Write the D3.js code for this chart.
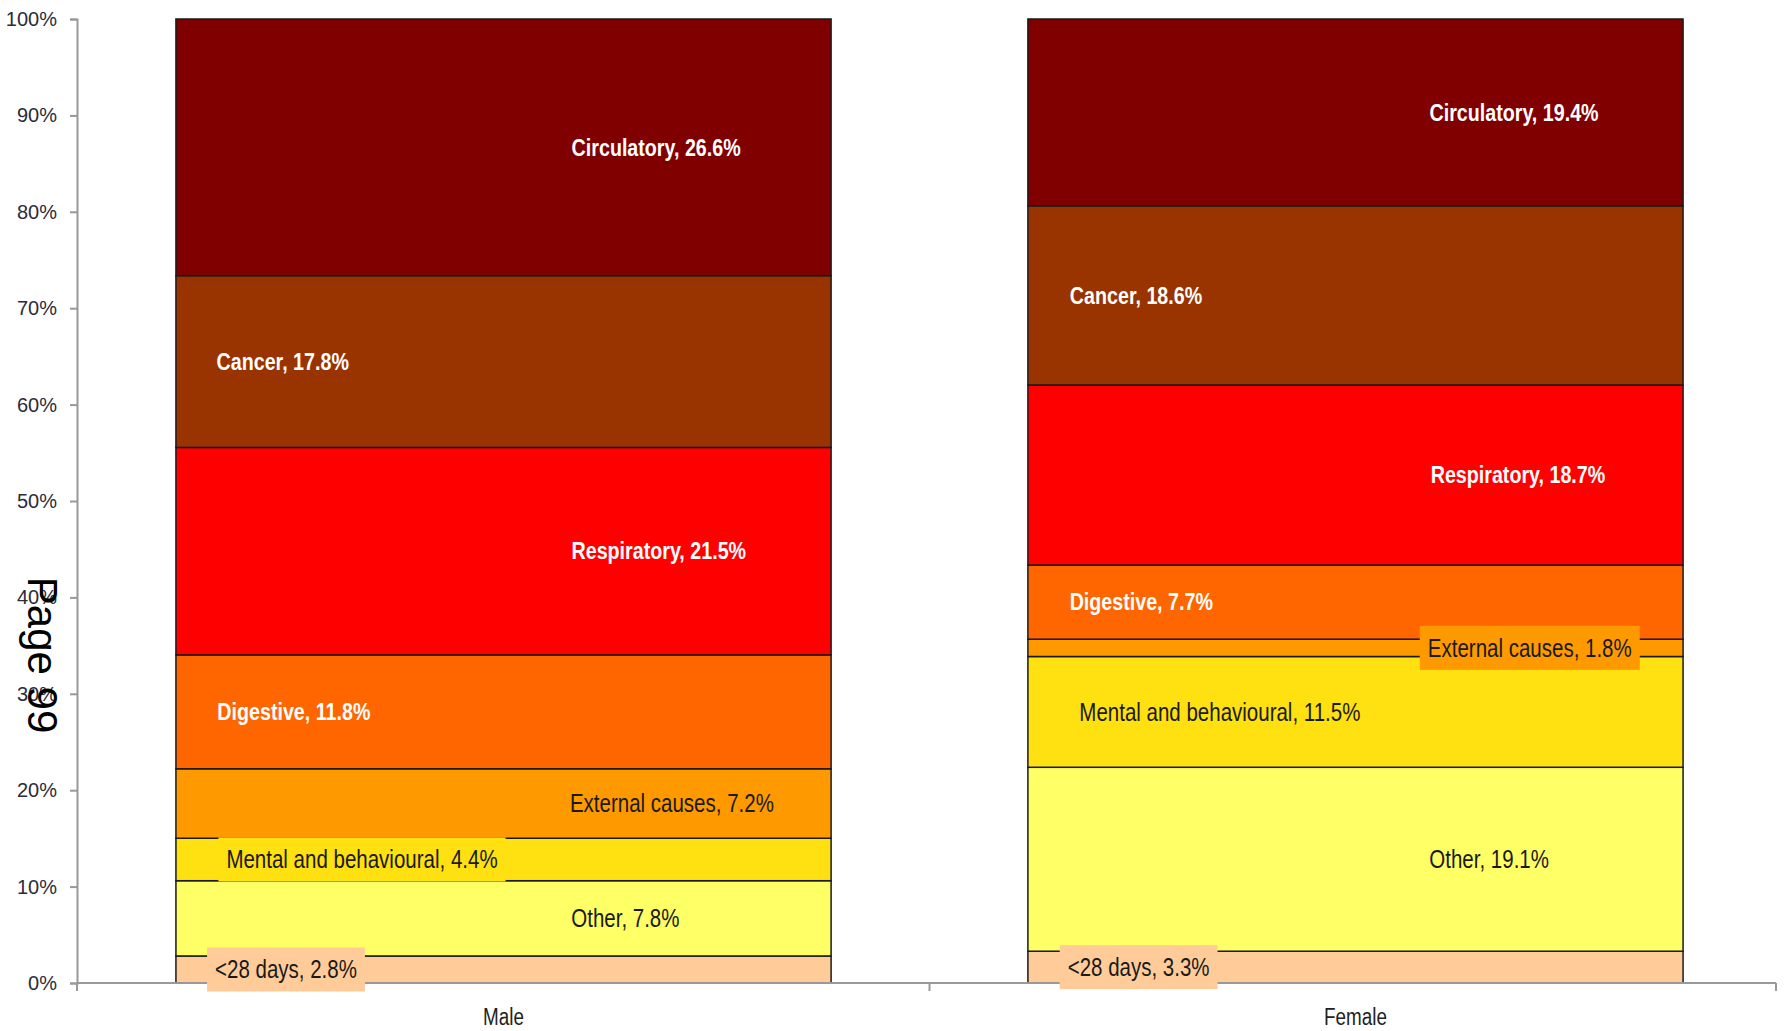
<!DOCTYPE html>
<html>
<head>
<meta charset="utf-8">
<script src="https://cdn.jsdelivr.net/npm/d3@7"></script>
<style>
  html, body { margin: 0; padding: 0; background: #fff; }
  svg { display: block; }
</style>
</head>
<body>
<svg id="chart" width="1789" height="1031"></svg>
<script>
// ---- DATA ----
const sexes = ["Male", "Female"];
const causes = ["<28 days", "Other", "Mental and behavioural", "External causes",
                "Digestive", "Respiratory", "Cancer", "Circulatory"];
const maleValues   = [2.8, 7.8, 4.4, 7.2, 11.8, 21.5, 17.8, 26.6];
const femaleValues = [3.3, 19.1, 11.5, 1.8, 7.7, 18.7, 18.6, 19.4];
const yTickValues = [0, 0.1, 0.2, 0.3, 0.4, 0.5, 0.6, 0.7, 0.8, 0.9, 1.0];

// ---- STYLE / LAYOUT ----
const causeColors = ["#FFCC99", "#FFFF66", "#FFE011", "#FF9900",
                     "#FF6600", "#FF0000", "#993300", "#800000"];
const whiteLabel = [false, false, false, false, true, true, true, true];
// horizontal position of each label centre, as fraction of bar width
const labelFrac = {
  Male:   [0.168, 0.686, 0.284, 0.757, 0.180, 0.737, 0.163, 0.733],
  Female: [0.169, 0.704, 0.293, 0.766, 0.173, 0.748, 0.165, 0.742]
};
const boxed = {
  Male:   [true, false, true, false, false, false, false, false],
  Female: [true, false, false, true, false, false, false, false]
};

const table = sexes.map((s, i) => {
  const vals = i === 0 ? maleValues : femaleValues;
  const row = { sex: s };
  causes.forEach((c, j) => row[c] = vals[j]);
  return row;
});

const svg = d3.select("#chart");
const plotLeft = 77, plotRight = 1776, plotTop = 19, plotBottom = 983;
const narrow = 0.82; // horizontal compression to emulate a condensed face

const x = d3.scaleBand().domain(sexes).range([plotLeft + 3, plotRight + 3])
  .paddingInner(0.231).paddingOuter(0.1126);
const y = d3.scaleLinear().domain([0, 1]).range([plotBottom, plotTop]);

const stack = d3.stack().keys(causes).offset(d3.stackOffsetExpand);
const series = stack(table);

const baseFont = '"Liberation Sans", Arial, sans-serif';

// bars
const g = svg.append("g");
series.forEach((ser, j) => {
  g.selectAll(null).data(ser).enter().append("rect")
    .attr("x", d => x(d.data.sex))
    .attr("width", x.bandwidth())
    .attr("y", d => y(d[1]))
    .attr("height", d => y(d[0]) - y(d[1]))
    .attr("fill", causeColors[j])
    .attr("stroke", "#1a1a1a")
    .attr("stroke-width", 1.5);
});

// y axis
const yAxis = d3.axisLeft(y).tickValues(yTickValues).tickFormat(d3.format(".0%"))
  .tickSize(7).tickPadding(13);
const ya = svg.append("g").attr("transform", `translate(${plotLeft},0)`).call(yAxis);
ya.select(".domain").attr("stroke", "#999").attr("stroke-width", 2);
ya.selectAll(".tick line").attr("stroke", "#999").attr("stroke-width", 2);
ya.selectAll(".tick text").attr("fill", "#2b2b3b")
  .style("font-family", baseFont).style("font-size", "20px");

// x axis
const xAxis = d3.axisBottom(x).tickSize(0);
const xa = svg.append("g").attr("transform", `translate(0,${plotBottom})`).call(xAxis);
xa.select(".domain").attr("stroke", "#999").attr("stroke-width", 2)
  .attr("d", `M${plotLeft},0H${plotRight}`);
xa.selectAll(".tick text").remove();
xa.selectAll(".tick").append("text")
  .attr("transform", `translate(0,42) scale(${narrow},1)`)
  .attr("text-anchor", "middle")
  .attr("fill", "#222")
  .style("font-family", baseFont).style("font-size", "23px")
  .text(d => d);
// category separator ticks
const sepTicks = [plotLeft, (x("Male") + x.bandwidth() + x("Female")) / 2, plotRight];
xa.selectAll(".sep").data(sepTicks).enter().append("line")
  .attr("x1", d => d).attr("x2", d => d).attr("y1", 0).attr("y2", 8)
  .attr("stroke", "#999").attr("stroke-width", 2);

// labels
const lg = svg.append("g");
series.forEach((ser, j) => {
  ser.forEach(d => {
    const sex = d.data.sex;
    const idx = sexes.indexOf(sex);
    const vals = idx === 0 ? maleValues : femaleValues;
    const cx = x(sex) + labelFrac[sex][j] * x.bandwidth();
    const cy = (y(d[0]) + y(d[1])) / 2;
    const grp = lg.append("g").attr("transform", `translate(${cx},${cy})`);
    const t = grp.append("text")
      .attr("transform", `scale(${narrow},1)`)
      .attr("text-anchor", "middle")
      .attr("dominant-baseline", "central")
      .style("font-family", baseFont)
      .style("font-size", whiteLabel[j] ? "24px" : "25px")
      .style("font-weight", whiteLabel[j] ? "bold" : "normal")
      .attr("fill", whiteLabel[j] ? "#ffffff" : "#1a1a1a")
      .text(`${causes[j]}, ${vals[j].toFixed(1)}%`);
    if (boxed[sex][j]) {
      const w = t.node().getBBox().width * narrow;
      grp.insert("rect", () => t.node())
        .attr("x", -w / 2 - 8).attr("width", w + 16)
        .attr("y", -22).attr("height", 44)
        .attr("fill", causeColors[j]);
    }
  });
});

// Page marker
svg.append("text")
  .attr("transform", "translate(42,655) rotate(90)")
  .attr("text-anchor", "middle")
  .attr("dominant-baseline", "central")
  .style("font-family", baseFont)
  .style("font-size", "42px")
  .attr("fill", "#000")
  .text("Page 99");
</script>
</body>
</html>
